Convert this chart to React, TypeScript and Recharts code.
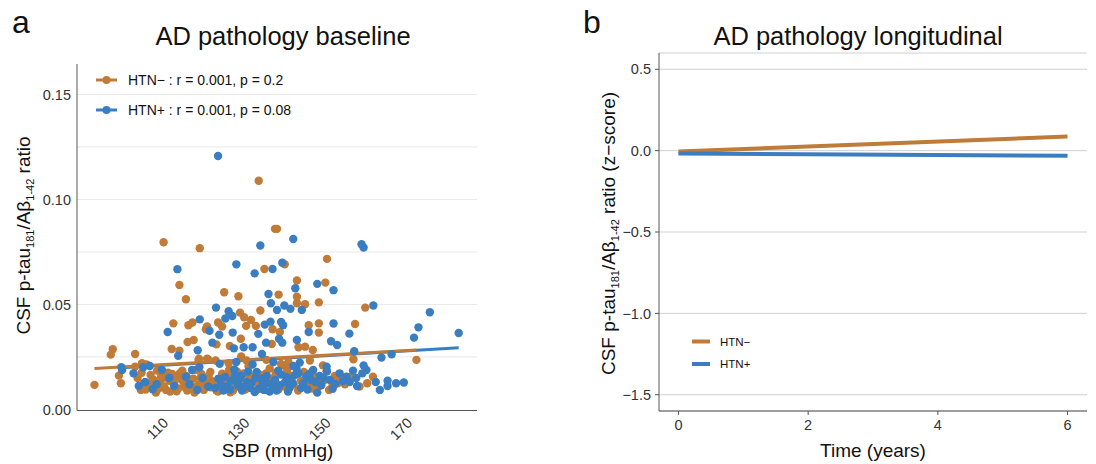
import { ComposedChart, Scatter, Line, XAxis, YAxis, ReferenceLine, CartesianGrid } from "recharts";

const FONT = '"Liberation Sans", Arial, Helvetica, sans-serif';
const ORANGE = "#BF7B37";
const BLUE = "#3A7EC1";
const AXIS = "#555555";
const TICK_TEXT = "#333333";

// panel a: SBP (mmHg) vs CSF p-tau/Abeta ratio
const htnNegPoints: [number, number][] = [
  [133.8, 0.1089], [137.8, 0.086], [138.3, 0.086], [110.4, 0.0796], [119.3, 0.0768], [150.6, 0.0717],
  [135.2, 0.0669], [140.2, 0.0691], [114.3, 0.0593], [115.9, 0.0525], [143.2, 0.0614], [150.2, 0.0604],
  [125.3, 0.0558], [128.8, 0.0539], [138.7, 0.0547], [143.2, 0.0537], [143.2, 0.0506], [145.2, 0.0501],
  [148.6, 0.051], [160.0, 0.0485], [129.2, 0.0461], [134.2, 0.0471], [130.2, 0.0439], [131.9, 0.0426],
  [112.8, 0.041], [116.5, 0.0401], [117.5, 0.0414], [121.1, 0.0395], [123.8, 0.0414], [124.8, 0.0395],
  [130.7, 0.0398], [133.1, 0.0398], [137.2, 0.0382], [139.0, 0.0369], [146.1, 0.0401], [148.6, 0.041],
  [157.5, 0.0407], [148.6, 0.0366], [120.8, 0.0382], [129.4, 0.0337], [126.7, 0.0302], [123.4, 0.031],
  [117.8, 0.0331], [116.3, 0.0321], [137.0, 0.0312], [143.6, 0.0296], [145.2, 0.0299], [147.1, 0.0283],
  [157.1, 0.0239], [172.6, 0.0236], [97.9, 0.0287], [97.4, 0.0261], [103.4, 0.0264], [112.4, 0.0288],
  [114.3, 0.028], [129.5, 0.0252], [119.1, 0.0242], [121.1, 0.0242], [123.2, 0.0233],
  [93.4, 0.0117], [99.4, 0.0161], [99.9, 0.0125], [103.4, 0.0204], [104.8, 0.0093], [106.6, 0.0112],
  [107.2, 0.0164], [108.5, 0.008], [109.5, 0.0125], [109.8, 0.0156], [111.0, 0.0093], [111.8, 0.0137],
  [112.5, 0.0169], [113.6, 0.0087], [114.4, 0.0172], [114.9, 0.014], [115.4, 0.0109], [116.5, 0.0125],
  [117.1, 0.0101], [117.7, 0.0147], [118.2, 0.0188], [119.2, 0.0121], [119.7, 0.0169], [120.3, 0.0093],
  [121.0, 0.014], [121.9, 0.0179], [122.4, 0.0134], [123.4, 0.009], [124.4, 0.0121], [125.6, 0.016],
  [126.5, 0.0188], [127.5, 0.009], [129.2, 0.0147], [130.1, 0.0172], [131.3, 0.0204], [132.3, 0.0156],
  [133.7, 0.0121], [135.6, 0.0172], [136.5, 0.0195], [137.7, 0.0153], [138.7, 0.0096], [139.8, 0.021],
  [140.8, 0.0188], [142.4, 0.0118], [144.2, 0.0137], [144.9, 0.0179], [146.2, 0.0115], [147.7, 0.0156],
  [148.7, 0.0112], [150.5, 0.0182], [151.1, 0.0093], [151.9, 0.0109], [153.2, 0.0125], [153.6, 0.0153],
  [156.4, 0.0156], [158.6, 0.0109], [161.9, 0.0156],
  [106.2, 0.0214], [105.1, 0.022], [119.0, 0.0236], [121.3, 0.0239], [126.4, 0.022], [130.8, 0.0233],
  [135.7, 0.0236], [139.3, 0.0217], [141.1, 0.0226], [146.4, 0.0233], [149.6, 0.021],
  [118.5, 0.011], [120.0, 0.013], [122.0, 0.0105], [124.0, 0.014], [125.0, 0.01], [126.0, 0.0125],
  [127.0, 0.015], [128.0, 0.0105], [131.0, 0.0115], [132.0, 0.0135], [134.5, 0.01], [136.0, 0.014],
  [113.0, 0.0125], [110.5, 0.011], [116.0, 0.016], [141.5, 0.0145], [145.5, 0.0135], [149.0, 0.013],
  [155.0, 0.012], [160.5, 0.0125], [108.0, 0.014], [105.5, 0.0125],
  [104.0, 0.015], [105.0, 0.0175], [106.0, 0.0095], [107.5, 0.013], [108.8, 0.0185], [109.2, 0.01],
  [110.2, 0.015], [111.5, 0.0175], [112.0, 0.0085], [113.3, 0.015], [114.0, 0.01], [115.0, 0.0185],
  [116.2, 0.009], [117.0, 0.014], [118.0, 0.008], [119.5, 0.015], [120.5, 0.011], [121.5, 0.016],
  [122.8, 0.012], [123.8, 0.0085], [124.8, 0.017], [125.8, 0.014], [126.8, 0.0082], [127.8, 0.013],
  [128.5, 0.018], [130.5, 0.0095], [131.5, 0.015], [133.0, 0.0088], [134.0, 0.0165], [135.2, 0.0115],
  [137.0, 0.0135], [138.0, 0.0175], [140.0, 0.011], [142.0, 0.016], [143.5, 0.009], [147.0, 0.01],
  [150.0, 0.014], [152.5, 0.016],
];

const htnPosPoints: [number, number][] = [
  [123.8, 0.1207], [142.3, 0.0812], [134.2, 0.0781], [159.1, 0.0787], [159.6, 0.0771],
  [113.8, 0.0668], [128.3, 0.0691], [137.2, 0.0669], [139.6, 0.0699], [132.8, 0.0648], [142.8, 0.0577],
  [148.2, 0.0598], [152.2, 0.0568], [136.2, 0.055], [136.8, 0.0506], [140.1, 0.0495], [141.6, 0.0479],
  [144.4, 0.0474], [162.0, 0.0495], [175.9, 0.0463], [123.3, 0.0485], [126.4, 0.0468], [138.3, 0.0474],
  [119.3, 0.0429], [125.6, 0.0433], [127.3, 0.0445], [136.7, 0.0418], [135.3, 0.0404], [139.3, 0.0417],
  [139.8, 0.0401], [152.2, 0.0409], [156.1, 0.0361], [146.1, 0.0369], [173.1, 0.0391], [172.0, 0.0342],
  [183.0, 0.0364], [111.4, 0.0369], [121.7, 0.0375], [124.1, 0.0356], [127.4, 0.0366], [122.4, 0.0318],
  [133.7, 0.036], [135.6, 0.0318], [138.8, 0.0337], [139.6, 0.0318], [143.2, 0.0331], [151.6, 0.0325],
  [153.1, 0.0307], [157.3, 0.0277], [164.0, 0.0247], [166.5, 0.0263], [114.0, 0.0256], [118.8, 0.0282],
  [127.7, 0.0291], [130.1, 0.0296], [132.3, 0.0296], [134.6, 0.0264],
  [100.0, 0.0201], [103.0, 0.0172], [104.3, 0.0112], [105.9, 0.0131], [107.7, 0.0096], [110.0, 0.0188],
  [113.0, 0.0112], [115.9, 0.0156], [118.7, 0.0093], [121.4, 0.0109], [123.1, 0.0102], [123.9, 0.0147],
  [125.1, 0.009], [126.1, 0.0109], [127.0, 0.0137], [128.0, 0.0166], [128.7, 0.0115], [129.7, 0.009],
  [130.8, 0.0131], [131.8, 0.0102], [132.8, 0.0083], [133.3, 0.0179], [134.4, 0.0147], [135.1, 0.0093],
  [136.0, 0.0125], [137.2, 0.0109], [138.2, 0.009], [139.3, 0.0166], [140.3, 0.0131], [141.4, 0.0102],
  [141.9, 0.0147], [143.1, 0.0195], [143.6, 0.0172], [144.2, 0.0102], [145.5, 0.0156], [146.7, 0.014],
  [147.2, 0.0188], [148.2, 0.008], [149.2, 0.0115], [149.8, 0.015], [150.6, 0.0182], [152.6, 0.0121],
  [153.7, 0.0172], [155.4, 0.0156], [156.2, 0.0131], [157.0, 0.0185], [158.0, 0.0112], [159.3, 0.0172],
  [159.6, 0.021], [160.3, 0.0188], [162.6, 0.0131], [163.6, 0.0093], [165.5, 0.0137], [165.5, 0.0112],
  [167.6, 0.0125], [169.5, 0.0128],
  [100.2, 0.0188], [105.4, 0.0201], [107.0, 0.0207], [117.4, 0.0188], [119.2, 0.0201], [124.2, 0.0217],
  [128.3, 0.0226], [132.3, 0.0214], [137.4, 0.0226], [142.3, 0.0207], [143.9, 0.0223], [150.5, 0.0204],
  [124.5, 0.012], [125.5, 0.0155], [126.8, 0.0095], [127.8, 0.019], [128.8, 0.0135], [129.5, 0.016],
  [130.3, 0.011], [131.2, 0.018], [132.0, 0.0125], [133.0, 0.015], [133.8, 0.0098], [134.8, 0.012],
  [135.8, 0.016], [136.5, 0.0085], [137.8, 0.014], [138.6, 0.0185], [139.0, 0.0115], [140.6, 0.0155],
  [141.0, 0.0085], [142.2, 0.0125], [142.8, 0.0165], [144.8, 0.0125], [145.8, 0.0095], [146.3, 0.017],
  [147.8, 0.013], [148.8, 0.016], [151.3, 0.014], [152.0, 0.0098], [154.5, 0.0135], [157.8, 0.015],
  [120.0, 0.015], [116.8, 0.012], [111.8, 0.015], [108.7, 0.012],
];

// fitted lines, ends
const htnNegFitSbp = [93.4, 172.6];
const htnNegFitRatio = [0.0195, 0.0283];
const htnPosFitSbp = [100.0, 183.0];
const htnPosFitRatio = [0.0198, 0.0294];

const sbpTicks = [110, 130, 150, 170];
const ratioTicks = [0, 0.05, 0.1, 0.15];
const ratioGrid = [0.025, 0.05, 0.075, 0.1, 0.125, 0.15];

// panel b: trajectories over time
const timeYears = [0, 6];
const htnNegZ = [-0.005, 0.087];
const htnPosZ = [-0.017, -0.031];
const timeTicks = [0, 2, 4, 6];
const zTicks = [-1.5, -1, -0.5, 0, 0.5];

const negData = htnNegPoints.map(([x, y]) => ({ x, y }));
const posData = htnPosPoints.map(([x, y]) => ({ x, y }));
const negFit = htnNegFitSbp.map((x, i) => ({ x, y: htnNegFitRatio[i] }));
const posFit = htnPosFitSbp.map((x, i) => ({ x, y: htnPosFitRatio[i] }));
const negTraj = timeYears.map((t, i) => ({ t, z: htnNegZ[i] }));
const posTraj = timeYears.map((t, i) => ({ t, z: htnPosZ[i] }));

const fmtZ = (v: number) => (v < 0 ? "\u2212" + Math.abs(v).toFixed(1) : v.toFixed(1));

function SbpTick(props: any) {
  const { x, y, payload } = props;
  return (
    <text
      x={x}
      y={y}
      dy="0.71em"
      textAnchor="end"
      fontSize={14.5}
      fill={TICK_TEXT}
      fontFamily={FONT}
      transform={`rotate(-45 ${x} ${y})`}
    >
      {payload.value}
    </text>
  );
}

const dot = (color: string) => (p: any) => <circle cx={p.cx} cy={p.cy} r={4.2} fill={color} />;

function YLabel({ x, y, extra }: { x: number; y: number; extra?: string }) {
  return (
    <text transform={`translate(${x},${y}) rotate(-90)`} textAnchor="middle" fontSize={19} fill="#111" fontFamily={FONT}>
      CSF p-tau
      <tspan fontSize={11} dy={4}>181</tspan>
      <tspan dy={-4}>/Aβ</tspan>
      <tspan fontSize={11} dy={4}>1-42</tspan>
      <tspan dy={-4}>{" ratio" + (extra || "")}</tspan>
    </text>
  );
}

export default function App() {
  const tickStyle = { fontSize: 14.5, fill: TICK_TEXT, fontFamily: FONT };
  return (
    <div style={{ position: "absolute", left: 0, top: 0, width: 1096, height: 464, background: "#fff" }}>
      <div style={{ position: "absolute", left: 0, top: 0 }}>
        <ComposedChart width={500} height={464} margin={{ top: 64, right: 23, bottom: 23.5, left: 37 }}>
          {ratioGrid.map((v) => (
            <ReferenceLine key={v} y={v} stroke="#e8e8e8" strokeWidth={1} />
          ))}
          <XAxis
            type="number"
            dataKey="x"
            domain={[89.1, 187.5]}
            ticks={sbpTicks}
            tick={<SbpTick />}
            tickLine={false}
            tickSize={4}
            tickMargin={2}
            axisLine={{ stroke: AXIS }}
            height={30}
            allowDataOverflow
          />
          <YAxis
            type="number"
            dataKey="y"
            domain={[-0.0005, 0.1645]}
            ticks={ratioTicks}
            tickFormatter={(v: number) => v.toFixed(2)}
            tickLine={false}
            tickSize={4}
            tickMargin={2}
            width={40}
            axisLine={{ stroke: AXIS }}
            tick={tickStyle}
            allowDataOverflow
          />
          <Scatter data={negData} fill={ORANGE} shape={dot(ORANGE)} isAnimationActive={false} />
          <Scatter data={posData} fill={BLUE} shape={dot(BLUE)} isAnimationActive={false} />
          <Line data={posFit} dataKey="y" type="linear" stroke={BLUE} strokeWidth={3} dot={false} isAnimationActive={false} />
          <Line data={negFit} dataKey="y" type="linear" stroke={ORANGE} strokeWidth={3} dot={false} isAnimationActive={false} />
        </ComposedChart>
      </div>

      <div style={{ position: "absolute", left: 560, top: 0 }}>
        <ComposedChart width={536} height={464} margin={{ top: 53, right: 9, bottom: 23, left: 49 }}>
          <CartesianGrid vertical={false} stroke="#cfcfcf" />
          <XAxis
            type="number"
            dataKey="t"
            domain={[-0.3, 6.3]}
            ticks={timeTicks}
            tickSize={4}
            tickMargin={5}
            tickLine={{ stroke: AXIS }}
            axisLine={{ stroke: AXIS }}
            tick={tickStyle}
            height={30}
            allowDataOverflow
          />
          <YAxis
            type="number"
            domain={[-1.6, 0.6]}
            ticks={zTicks}
            tickFormatter={fmtZ}
            tickSize={4}
            tickMargin={4}
            tickLine={{ stroke: AXIS }}
            axisLine={{ stroke: AXIS }}
            tick={tickStyle}
            width={50}
            allowDataOverflow
          />
          <Line data={negTraj} dataKey="z" type="linear" stroke={ORANGE} strokeWidth={4} dot={false} isAnimationActive={false} />
          <Line data={posTraj} dataKey="z" type="linear" stroke={BLUE} strokeWidth={4} dot={false} isAnimationActive={false} />
        </ComposedChart>
      </div>

      <svg width={1096} height={464} style={{ position: "absolute", left: 0, top: 0, pointerEvents: "none" }} fontFamily={FONT}>
        <text x={12} y={33} fontSize={32} fill="#111">a</text>
        <text x={583} y={33} fontSize={32} fill="#111">b</text>
        <text x={283} y={45} fontSize={25.5} textAnchor="middle" fill="#111">AD pathology baseline</text>
        <text x={858} y={44.5} fontSize={25.5} textAnchor="middle" fill="#111">AD pathology longitudinal</text>

        <YLabel x={30} y={235.5} />
        <YLabel x={615} y={233.5} extra={" (z\u2212score)"} />
        <text x={277.5} y={457} fontSize={19} textAnchor="middle" fill="#111">SBP (mmHg)</text>
        <text x={873} y={457} fontSize={19} textAnchor="middle" fill="#111">Time (years)</text>

        <line x1={96} x2={117} y1={80} y2={80} stroke={ORANGE} strokeWidth={3} />
        <circle cx={106.5} cy={80} r={4} fill={ORANGE} />
        <text x={128} y={85} fontSize={14} fill="#111">HTN− : r = 0.001, p = 0.2</text>
        <line x1={96} x2={117} y1={110} y2={110} stroke={BLUE} strokeWidth={3} />
        <circle cx={106.5} cy={110} r={4} fill={BLUE} />
        <text x={128} y={115} fontSize={14} fill="#111">HTN+ : r = 0.001, p = 0.08</text>

        <line x1={692} x2={710} y1={341.5} y2={341.5} stroke={ORANGE} strokeWidth={4} />
        <text x={720} y={345.5} fontSize={11.5} fill="#111">HTN−</text>
        <line x1={692} x2={710} y1={364} y2={364} stroke={BLUE} strokeWidth={4} />
        <text x={720} y={368} fontSize={11.5} fill="#111">HTN+</text>
      </svg>
    </div>
  );
}
